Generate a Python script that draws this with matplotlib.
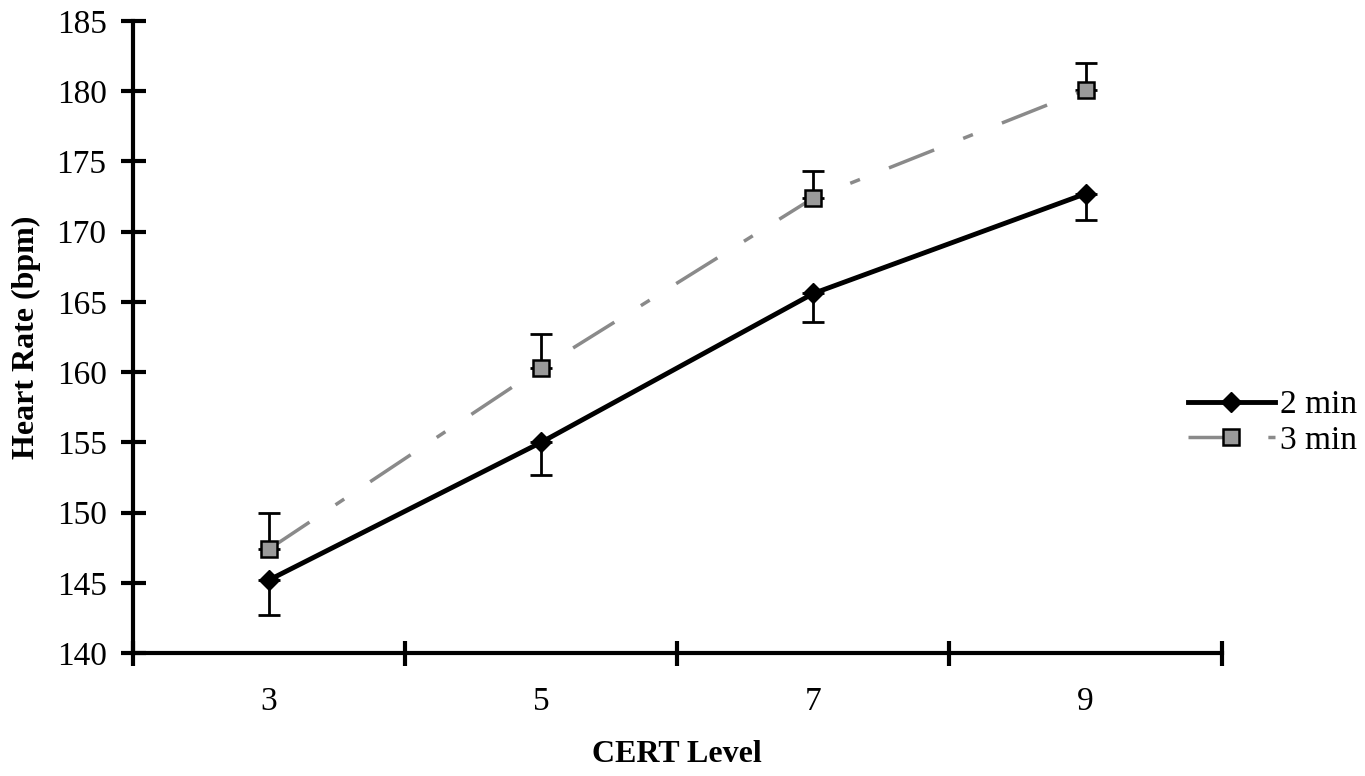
import matplotlib.pyplot as plt
import numpy as np

# Datos
niveles = ["3", "5", "7", "9"]
hr_2min = [145.2, 155.0, 165.6, 172.7]
err_2min = [2.5, 2.3, 2.0, 1.9]
hr_3min = [147.4, 160.3, 172.4, 180.1]
err_3min = [2.6, 2.4, 1.9, 1.9]

plt.rcParams["font.family"] = ["Liberation Serif", "DejaVu Serif"]

fig = plt.figure(figsize=(13.65, 7.76), dpi=100)
ax = fig.add_axes([0.0974, 0.1585, 0.7976, 0.8145])

x = np.arange(1, len(niveles) + 1)

# 2 min: linea negra con rombos, error hacia abajo
ax.errorbar(x, hr_2min, yerr=[err_2min, [0] * 4], fmt="none", ecolor="black",
            elinewidth=2, capsize=8, capthick=2, zorder=2)
ax.plot(x, hr_2min, color="black", linewidth=3.5, marker="D", markersize=10,
        markerfacecolor="black", markeredgecolor="black", label="2 min", zorder=3)

# 3 min: linea gris discontinua con cuadrados, error hacia arriba
ax.errorbar(x, hr_3min, yerr=[[0] * 4, err_3min], fmt="none", ecolor="black",
            elinewidth=2, capsize=8, capthick=2, zorder=2)
ax.plot(x, hr_3min, color="#8a8a8a", linewidth=2.5, dashes=(14, 9, 3, 9),
        marker="s", markersize=12, markerfacecolor="#9a9a9a",
        markeredgecolor="black", markeredgewidth=1.8, label="3 min", zorder=3)

ax.set_xlim(0.5, 4.5)
ax.set_ylim(140, 185)
ax.set_yticks(np.arange(140, 186, 5))
ax.set_xticks(np.arange(0.5, 4.6, 1))
ax.set_xticklabels([])
ax.set_xticks(x, minor=True)
ax.set_xticklabels(niveles, minor=True)

for s in ["top", "right"]:
    ax.spines[s].set_visible(False)
for s in ["left", "bottom"]:
    ax.spines[s].set_linewidth(3)

ax.tick_params(axis="both", which="major", direction="inout", length=18, width=3,
               labelsize=24)
ax.tick_params(axis="y", pad=10)
ax.tick_params(axis="x", which="minor", length=0, pad=24, labelsize=24)

ax.set_xlabel("CERT Level", fontsize=23, fontweight="bold", labelpad=17)
ax.set_ylabel("Heart Rate (bpm)", fontsize=23, fontweight="bold", labelpad=11)

fig.legend(loc="center left", bbox_to_anchor=(1188 / 1365, 0.455), frameon=False,
           fontsize=24, handlelength=2.6, handletextpad=0.15, labelspacing=0.15,
           borderaxespad=0, borderpad=0)

fig.savefig("out.png", dpi=100, facecolor="white")
